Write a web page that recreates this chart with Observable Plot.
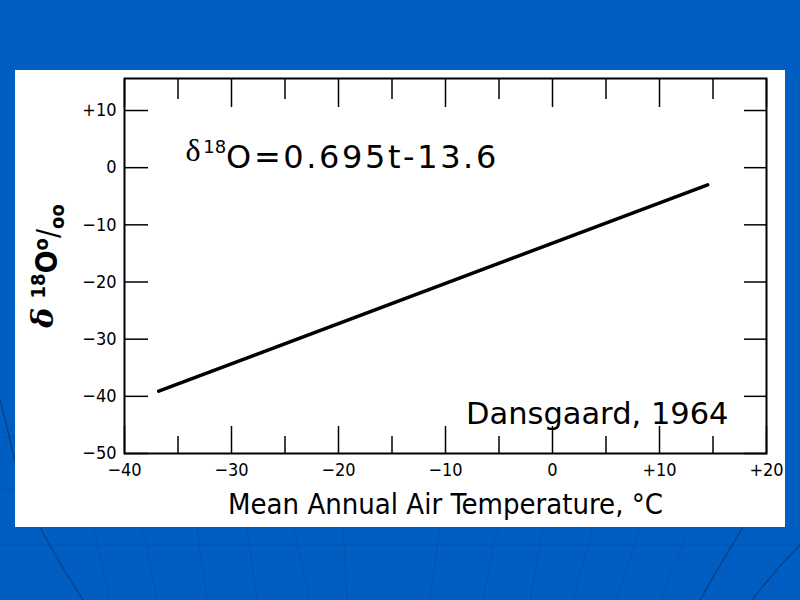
<!DOCTYPE html>
<html><head><meta charset="utf-8">
<script src="https://cdn.jsdelivr.net/npm/d3@7"></script>
<script src="https://cdn.jsdelivr.net/npm/@observablehq/plot@0.6"></script>
<style>
html,body{margin:0;padding:0;}
body{width:800px;height:600px;background:#005ec3;position:relative;overflow:hidden;font-family:"Liberation Sans Narrow","DejaVu Sans Condensed",sans-serif;}
#bg{position:absolute;left:0;top:0;}
#panel{position:absolute;left:15px;top:70px;width:770px;height:457px;background:#fff;}
#panel svg{display:block;font-size:18px !important;}
#panel svg g[aria-label$="tick label"], #panel svg g[aria-label$="tick label"] text{font-size:18px !important;font-family:"Liberation Sans Narrow","DejaVu Sans Condensed",sans-serif;}
</style></head><body>
<svg id="bg" width="800" height="600">
  <g stroke="#0a4a99" stroke-opacity="0.55" stroke-width="1" fill="none">
    <line x1="0" y1="545" x2="800" y2="545"/>
    <line x1="0" y1="437" x2="15" y2="437"/>
    <line x1="0" y1="490" x2="15" y2="490"/>
    <line x1="93" y1="527" x2="110" y2="600"/>
    <line x1="143" y1="527" x2="157" y2="600"/>
    <line x1="197" y1="527" x2="207" y2="600"/>
    <line x1="247" y1="527" x2="257" y2="600"/>
    <line x1="293" y1="527" x2="310" y2="600"/>
    <line x1="343" y1="527" x2="347" y2="600"/>
    <line x1="440" y1="527" x2="430" y2="600"/>
    <line x1="497" y1="527" x2="483" y2="600"/>
    <line x1="543" y1="527" x2="530" y2="600"/>
    <line x1="593" y1="527" x2="573" y2="600"/>
    <line x1="640" y1="527" x2="617" y2="600"/>
    <line x1="690" y1="527" x2="660" y2="600"/>
  </g>
  <g stroke="#0b3c7a" stroke-opacity="0.8" stroke-width="1.5" fill="none">
    <path d="M0,400 Q8,430 15,462"/>
    <path d="M40,527 Q60,565 83,600"/>
    <path d="M743,527 Q720,565 700,600"/>
    <path d="M800,545 Q775,570 752,600"/>
  </g>
</svg>
<div id="panel"></div>
<script>
// Data
const temperature = [-36.8, 14.5];   // line end points, °C
const delta18O = [-39.1, -3.0];      // δ18O ‰
const xMajorTicks = [-40, -30, -20, -10, 0, 10, 20];
const xMinorTicks = [-35, -25, -15, -5, 5, 15];
const xTickLabels = ["−40", "−30", "−20", "−10", "0", "+10", "+20"];
const yTicks = [10, 0, -10, -20, -30, -40, -50];
const yTickLabels = ["+10", "0", "−10", "−20", "−30", "−40", "−50"];
const equationText = "δ18O=0.695t-13.6";
const sourceText = "Dansgaard, 1964";
const xTitle = "Mean Annual Air Temperature, °C";
const yTitle = "δ 18O o/oo";

const lineData = temperature.map((t, i) => ({t, d: delta18O[i]}));

const chart = Plot.plot({
  width: 770,
  height: 457,
  marginLeft: 109,
  marginRight: 19,
  marginTop: 8,
  marginBottom: 74,
  style: {fontFamily: '"Liberation Sans Narrow","DejaVu Sans Condensed",sans-serif', background: "white", color: "black"},
  x: {domain: [-40, 20]},
  y: {domain: [-50, 15.6]},
  marks: [
    Plot.frame({stroke: "black", strokeWidth: 2}),
    // inner ticks
    Plot.axisX(xMajorTicks, {anchor: "bottom", tickSize: -27, tickFormat: () => "", label: null, strokeWidth: 1.5}),
    Plot.axisX(xMinorTicks, {anchor: "bottom", tickSize: -17, tickFormat: () => "", label: null, strokeWidth: 1.5}),
    Plot.axisX(xMajorTicks, {anchor: "top", tickSize: -28, tickFormat: () => "", label: null, strokeWidth: 1.5}),
    Plot.axisX(xMinorTicks, {anchor: "top", tickSize: -20, tickFormat: () => "", label: null, strokeWidth: 1.5}),
    Plot.axisY(yTicks, {anchor: "left", tickSize: -24, tickFormat: () => "", label: null, strokeWidth: 1.5}),
    Plot.axisY(yTicks, {anchor: "right", tickSize: -23, tickFormat: () => "", label: null, strokeWidth: 1.5}),
    // labels
    Plot.axisX(xMajorTicks, {anchor: "bottom", tickSize: 0, tickPadding: 10, fontSize: 18,
      tickFormat: d => xTickLabels[xMajorTicks.indexOf(d)],
      label: xTitle, labelAnchor: "center", labelArrow: "none", labelOffset: 60}),
    Plot.axisY(yTicks, {anchor: "left", tickSize: 0, tickPadding: 8, fontSize: 18,
      tickFormat: d => yTickLabels[yTicks.indexOf(d)],
      label: yTitle, labelAnchor: "center", labelArrow: "none", labelOffset: 93}),
    Plot.line(lineData, {x: "t", y: "d", stroke: "black", strokeWidth: 3.5}),
    Plot.text([equationText], {frameAnchor: "top-left", dx: 61, dy: 60, textAnchor: "start", lineAnchor: "top",
      fontSize: 32, fontFamily: '"DejaVu Sans",Verdana,sans-serif', fill: "black"}),
    Plot.text([sourceText], {frameAnchor: "bottom-right", dx: -38, dy: -30, textAnchor: "end", lineAnchor: "bottom",
      fontSize: 30.5, fontFamily: '"DejaVu Sans",Verdana,sans-serif', fill: "black"})
  ]
});
document.getElementById("panel").appendChild(chart);

const svg = d3.select(chart);
svg.selectAll('g[aria-label="x-axis label"] text').style("font-size", "29px");
// y title with super/subscripts
const yl = svg.select('g[aria-label="y-axis label"] text');
yl.style("font-size", "30px").style("font-weight", "bold").text(null);
yl.append("tspan").text("δ").style("font-family", '"DejaVu Serif","Liberation Serif",serif').style("font-style", "italic");
yl.append("tspan").text(" ");
yl.append("tspan").text("18").attr("dy", "-0.4em").style("font-size", "20px");
yl.append("tspan").text("O").attr("dy", "0.4em");
yl.append("tspan").text("o").attr("dy", "-0.45em").style("font-size", "20px");
yl.append("tspan").text("/").attr("dy", "0.35em").style("font-weight", "normal");
yl.append("tspan").text("oo").attr("dy", "0.3em").style("font-size", "20px");
// equation with serif delta and superscript
const eq = svg.select('g[aria-label="text"] text');
eq.text(null).style("letter-spacing", "2.6px");
eq.append("tspan").text("δ").style("font-family", '"Liberation Serif","DejaVu Serif",serif');
eq.append("tspan").text("18").attr("dy", "-0.45em").style("font-size", "18px").style("letter-spacing", "0px");
eq.append("tspan").text("O=0.695t-13.6").attr("dy", "0.45em");
</script>
</body></html>
